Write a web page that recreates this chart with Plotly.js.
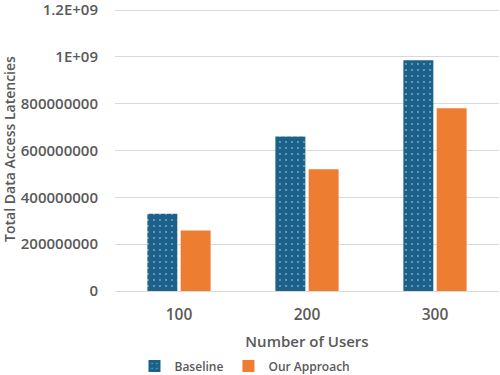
<!DOCTYPE html>
<html><head><meta charset="utf-8">
<script src="https://cdn.plot.ly/plotly-3.0.1.min.js"></script>
<style>html,body{margin:0;padding:0;background:#fff}#c{width:500px;height:375px}</style>
</head><body><div id="c"></div>
<script>
const categories = ['100', '200', '300'];
const baseline = [330000000, 660000000, 985000000];
const ourApproach = [258000000, 520000000, 780000000];
const yTickVals = [0, 200000000, 400000000, 600000000, 800000000, 1000000000, 1200000000];
const yTickText = ['0', '200000000', '400000000', '600000000', '800000000', '1E+09', '1.2E+09'];

const fontFam = '"Open Sans", Lato, sans-serif';
const grey = '#595959';

const data = [
  {type: 'bar', name: 'Baseline', x: categories, y: baseline,
   marker: {color: '#1b6189', line: {width: 0},
     pattern: {shape: '.', fgcolor: '#7aaac8', bgcolor: '#1b6189', size: 6, solidity: 0.08}}},
  {type: 'bar', name: 'Our Approach', x: categories, y: ourApproach,
   marker: {color: '#ed7d31', line: {width: 0}}}
];
const layout = {
  width: 500, height: 375,
  margin: {l: 115, r: 1, t: 7, b: 84},
  paper_bgcolor: '#fff', plot_bgcolor: '#fff',
  barmode: 'group', bargap: 0.48, bargroupgap: 0.1,
  font: {family: fontFam, color: grey, size: 14, weight: 600},
  xaxis: {type: 'category', showgrid: false, showline: false, ticks: '', ticklabelstandoff: 12,
    tickfont: {size: 15.5, color: grey, weight: 600},
    title: {text: 'Number of Users', font: {size: 15, color: grey, weight: 600}, standoff: 12}},
  yaxis: {range: [0, 1212800000], tickvals: yTickVals, ticktext: yTickText,
    showgrid: true, gridcolor: '#d9d9d9', gridwidth: 1, zeroline: true, zerolinecolor: '#d9d9d9',
    showline: false, ticks: '', ticklabelstandoff: 16, ticklabeloverflow: 'allow',
    tickfont: {size: 15, color: grey, weight: 600},
    title: {text: 'Total Data Access Latencies', font: {size: 14, color: grey, weight: 600}, standoff: 7}},
  legend: {orientation: 'h', xref: 'container', yref: 'container', x: 0.49, xanchor: 'center', y: 0.024, yanchor: 'middle',
    font: {size: 12, color: grey, weight: 600}, itemwidth: 30},
  showlegend: true
};
Plotly.newPlot('c', data, layout, {displayModeBar: false, staticPlot: true});
</script>
</body></html>
